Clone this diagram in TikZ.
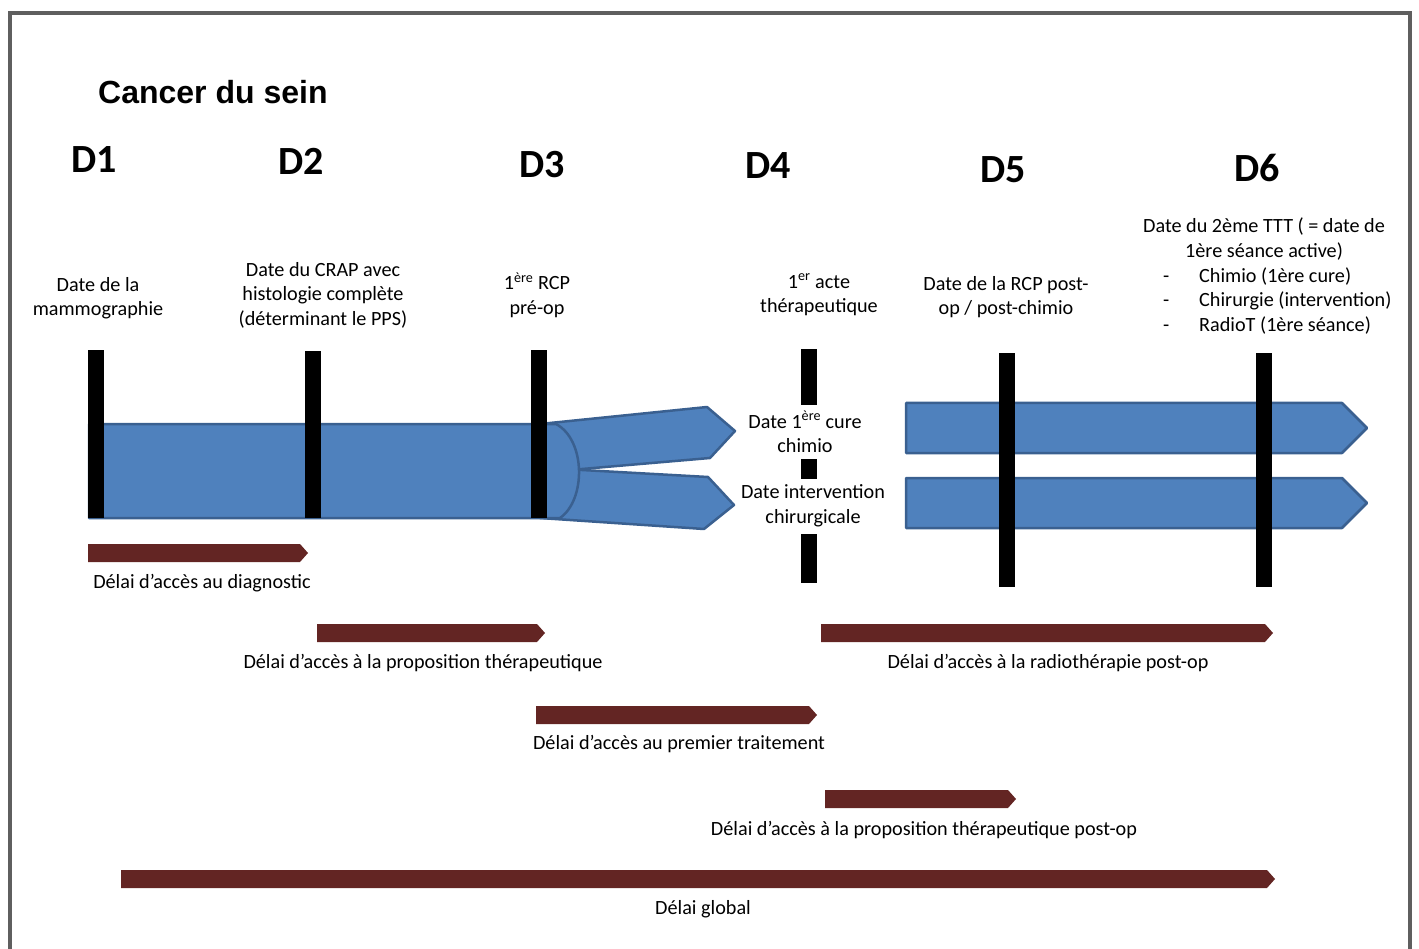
\documentclass[tikz,border=0pt]{standalone}
\usepackage{fontspec}
\usepackage{tikz}
\usepackage{xcolor}
\setmainfont{Carlito}
\newfontfamily\titlefont{Liberation Sans}
\definecolor{bandblue}{HTML}{4F81BD}
\definecolor{bandedge}{HTML}{3A6090}
\definecolor{delayred}{HTML}{632523}
\definecolor{framegray}{HTML}{5F5F5F}
\tikzset{
    blue-band/.style = {fill=bandblue, draw=bandedge, line width=2.5pt, line join=round},
    date-bar/.style = {fill=black},
    delay-bar/.style = {fill=delayred},
    date-text/.style = {align=center, font=\fontsize{20.2}{24.5}\selectfont, inner sep=0pt},
    delay-text/.style = {font=\fontsize{20.2}{24.5}\selectfont, inner sep=0pt},
    gap-text/.style = {date-text, fill=white, inner xsep=2pt},
    d-label/.style = {font=\fontsize{40}{48}\selectfont\bfseries, inner sep=0pt},
}

\begin{document}
\begin{tikzpicture}[x=1pt, y=-1pt]
\useasboundingbox (0,0) rectangle (1419,949);
\draw[framegray, line width=4pt] (10,960) -- (10,13) -- (1410,13) -- (1410,960);

\node[anchor=west, inner sep=0pt, font=\titlefont\fontsize{32}{38}\selectfont\bfseries] (title) at (98,92) {Cancer du sein};

\node[d-label] (d1) at (94,160) {D1};
\node[d-label] (d2) at (301,161) {D2};
\node[d-label] (d3) at (542,165) {D3};
\node[d-label] (d4) at (768,166) {D4};
\node[d-label] (d5) at (1003,170) {D5};
\node[d-label] (d6) at (1257,168) {D6};

\node[date-text] (t1) at (98,298) {Date de la\\mammographie};
\node[date-text] (t2) at (323,295) {Date du CRAP avec\\histologie complète\\(déterminant le PPS)};
\node[date-text] (t3) at (537,295) {1\textsuperscript{ère} RCP\\pré-op};
\node[date-text] (t4) at (819,295) {1\textsuperscript{er} acte\\thérapeutique};
\node[date-text] (t5) at (1006,297) {Date de la RCP post-\\op / post-chimio};
\node[date-text] (t6) at (1264,239) {Date du 2ème TTT ( = date de\\1ère séance active)};
\node[date-text, align=left, anchor=west] (t6list) at (1163,301) {\makebox[36pt][l]{-}Chimio (1ère cure)\\\makebox[36pt][l]{-}Chirurgie (intervention)\\\makebox[36pt][l]{-}RadioT (1ère séance)};

\filldraw[blue-band] (540,424) -- (707,407) -- (735,431) -- (710,458) -- (582,469) -- (540,469) -- cycle;
\filldraw[blue-band] (540,469) -- (582,470) -- (708,477) -- (734,505) -- (704,529) -- (540,518) -- cycle;
\filldraw[blue-band] (89,424) -- (556,424) .. controls (586,440) and (586,500) .. (560,518) -- (89,518) -- cycle;
\filldraw[blue-band] (906,403) -- (1342,403) -- (1367,428) -- (1342,453) -- (906,453) -- cycle;
\filldraw[blue-band] (906,478) -- (1342,478) -- (1367,503) -- (1342,528) -- (906,528) -- cycle;

\fill[date-bar] (88,350) rectangle (104,518);
\fill[date-bar] (305,351) rectangle (321,518);
\fill[date-bar] (531,350) rectangle (547,518);
\fill[date-bar] (801,349) rectangle (817,583);
\fill[date-bar] (999,353) rectangle (1015,587);
\fill[date-bar] (1256,353) rectangle (1272,587);

\node[gap-text, minimum height=53pt] (chimio) at (805,432) {Date 1\textsuperscript{ère} cure\\chimio};
\node[gap-text, minimum height=55pt] (chir) at (813,506) {Date intervention\\chirurgicale};

\fill[delay-bar] (88,544) -- (300,544) -- (308,553) -- (300,562) -- (88,562) -- cycle;
\node[delay-text] (l1) at (202,583) {Délai d’accès au diagnostic};
\fill[delay-bar] (317,624) -- (537,624) -- (545,633) -- (537,642) -- (317,642) -- cycle;
\node[delay-text] (l2) at (423,663) {Délai d’accès à la proposition thérapeutique};
\fill[delay-bar] (821,624) -- (1265,624) -- (1273,633) -- (1265,642) -- (821,642) -- cycle;
\node[delay-text] (l3) at (1048,663) {Délai d’accès à la radiothérapie post-op};
\fill[delay-bar] (536,706) -- (809,706) -- (817,715) -- (809,724) -- (536,724) -- cycle;
\node[delay-text] (l4) at (679,744) {Délai d’accès au premier traitement};
\fill[delay-bar] (825,790) -- (1008,790) -- (1016,799) -- (1008,808) -- (825,808) -- cycle;
\node[delay-text] (l5) at (924,830) {Délai d’accès à la proposition thérapeutique\ post-op};
\fill[delay-bar] (121,870) -- (1267,870) -- (1275,879) -- (1267,888) -- (121,888) -- cycle;
\node[delay-text] (l6) at (703,909) {Délai global};
\end{tikzpicture}
\end{document}
